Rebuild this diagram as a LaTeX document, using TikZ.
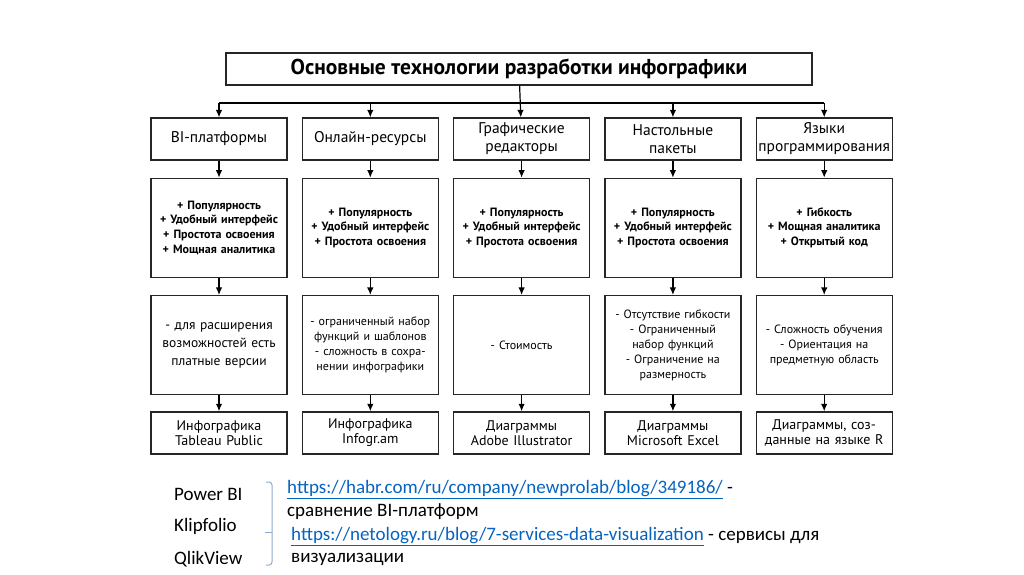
\documentclass[tikz,border=0pt]{standalone}
\usepackage{fontspec}
\setmainfont{PT Sans}
\newfontfamily\calfont{Carlito}
\usetikzlibrary{arrows.meta,positioning}
\definecolor{linkblue}{RGB}{5,99,193}
\definecolor{bracketblue}{RGB}{143,170,205}

\begin{document}
\begin{tikzpicture}[
  x=1pt, y=-1pt,
  node distance=17pt and 14pt,
  box/.style={draw=black!85, line width=1.3pt, align=center, minimum width=136pt, text width=132pt, inner sep=2pt},
  head/.style={box, minimum height=42pt, font=\fontsize{15.5}{18}\selectfont},
  pros/.style={box, minimum height=99pt, font=\bfseries\fontsize{12}{14.7}\selectfont},
  cons/.style={box, minimum height=99pt, font=\fontsize{12}{15}\selectfont},
  tool/.style={box, minimum height=42pt, font=\fontsize{14}{15}\selectfont},
  arrow/.style={-{Latex[length=7.5pt,width=6.5pt]}, line width=1.2pt},
  note/.style={anchor=west, inner sep=0pt, font=\calfont\fontsize{19}{22}\selectfont}
]
\useasboundingbox (0,0) rectangle (1024,574);

% title and bus
\node[draw=black!85, line width=1.3pt, minimum width=586pt, minimum height=32pt, font=\bfseries\fontsize{21.5}{24}\selectfont] (title) at (519,69) {Основные технологии разработки инфографики};
\coordinate (bus) at (519,103);

% column heads
\node[head] (bi) at (219,139) {BI-платформы};
\node[head, right=of bi] (online) {Онлайн-ресурсы};
\node[head, right=of online] (graph) {Графические\\редакторы};
\node[head, right=of graph] (desk) {Настольные\\пакеты};
\node[head, right=of desk] (lang) {Языки\\программирования};

% advantages
\node[pros, below=of bi] (biPros) {+ Популярность\\+ Удобный интерфейс\\+ Простота освоения\\+ Мощная аналитика};
\node[pros, below=of online] (onlinePros) {+ Популярность\\+ Удобный интерфейс\\+ Простота освоения};
\node[pros, below=of graph] (graphPros) {+ Популярность\\+ Удобный интерфейс\\+ Простота освоения};
\node[pros, below=of desk] (deskPros) {+ Популярность\\+ Удобный интерфейс\\+ Простота освоения};
\node[pros, below=of lang] (langPros) {+ Гибкость\\+ Мощная аналитика\\+ Открытый код};

% drawbacks
\node[cons, below=of biPros, font=\fontsize{13.5}{18}\selectfont] (biCons) {- для расширения\\возможностей есть\\платные версии};
\node[cons, below=of onlinePros] (onlineCons) {- ограниченный набор\\функций и шаблонов\\- сложность в сохра-\\нении инфографики};
\node[cons, below=of graphPros] (graphCons) {- Стоимость};
\node[cons, below=of deskPros] (deskCons) {- Отсутствие гибкости\\- Ограниченный\\набор функций\\- Ограничение на\\размерность};
\node[cons, below=of langPros] (langCons) {- Сложность обучения\\- Ориентация на\\предметную область};

% examples
\node[tool, below=16pt of biCons] (biTool) {Инфографика\\Tableau Public};
\node[tool, below=16pt of onlineCons] (onlineTool) {Инфографика\\Infogr.am};
\node[tool, below=16pt of graphCons] (graphTool) {Диаграммы\\Adobe Illustrator};
\node[tool, below=16pt of deskCons] (deskTool) {Диаграммы\\Microsoft Excel};
\node[tool, below=16pt of langCons] (langTool) {Диаграммы, соз-\\данные на языке R};

\draw[arrow] (title) -- (graph);
\draw[line width=1.2pt] (bi.north |- bus) -- (lang.north |- bus);
\draw[arrow] (bi.north |- bus) -- (bi);
\draw[arrow] (online.north |- bus) -- (online);
\draw[arrow] (desk.north |- bus) -- (desk);
\draw[arrow] (lang.north |- bus) -- (lang);

\draw[arrow] (bi) -- (biPros);
\draw[arrow] (biPros) -- (biCons);
\draw[arrow] (biCons) -- (biTool);
\draw[arrow] (online) -- (onlinePros);
\draw[arrow] (onlinePros) -- (onlineCons);
\draw[arrow] (onlineCons) -- (onlineTool);
\draw[arrow] (graph) -- (graphPros);
\draw[arrow] (graphPros) -- (graphCons);
\draw[arrow] (graphCons) -- (graphTool);
\draw[arrow] (desk) -- (deskPros);
\draw[arrow] (deskPros) -- (deskCons);
\draw[arrow] (deskCons) -- (deskTool);
\draw[arrow] (lang) -- (langPros);
\draw[arrow] (langPros) -- (langCons);
\draw[arrow] (langCons) -- (langTool);

% notes below
\node[note] (powerBi) at (174,494) {Power BI};
\node[note] (klipfolio) at (174,526) {Klipfolio};
\node[note] (qlikView) at (174,559) {QlikView};
\draw[bracketblue, line width=1pt, rounded corners=3pt] (266,482) -- (272,482) -- (272,565) -- (266,565);
\draw[bracketblue, line width=1pt] (272,532) -- (265,532);

\node[note] (habrLink) at (287,490) {\textcolor{linkblue}{\underline{https://habr.com/ru/company/newprolab/blog/349186/}} -};
\node[note] (habrText) at (287,512) {сравнение BI-платформ};
\node[note] (netoLink) at (291,537) {\textcolor{linkblue}{\underline{https://netology.ru/blog/7-services-data-visualization}} - сервисы для};
\node[note] (netoText) at (291,559) {визуализации};
\end{tikzpicture}
\end{document}
